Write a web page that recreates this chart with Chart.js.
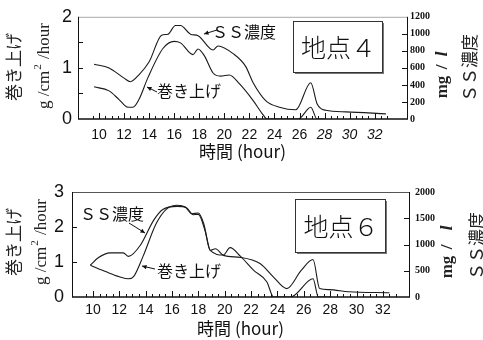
<!DOCTYPE html>
<html><head><meta charset="utf-8">
<script src="https://cdn.jsdelivr.net/npm/chart.js@4.4.1/dist/chart.umd.min.js"></script>
<style>
html,body{margin:0;padding:0;background:#fff;width:483px;height:340px;overflow:hidden}
canvas{position:absolute;left:0}
#c1{top:0}#c2{top:170px}
</style></head><body>
<canvas id="c1" width="483" height="170"></canvas>
<canvas id="c2" width="483" height="170"></canvas>
<script>
// ---- data ----
const xTickLabels = [10,12,14,16,18,20,22,24,26,28,30,32];
// 地点4
const ss4Hours = [9.6,10.8,12.0,12.5,13.2,14.0,15.0,15.5,16.1,16.5,17.3,17.9,19.1,19.5,20.7,21.7,22.3,23.3,24.4,25.7,26.9,27.4,28.1,29.7,32.9];
const ss4Conc  = [642,600,480,438,522,672,984,996,1098,1098,996,978,810,858,768,618,426,216,138,108,426,180,102,84,60];
const up4Hours = [9.6,10.8,11.6,12.3,12.7,13.2,13.9,15.1,16.0,16.5,17.5,17.9,18.4,19.1,19.7,20.4,21.2,22.3,23.1,23.4,25.9,26.9,27.4,28.0];
const up4Rate  = [0.63,0.55,0.38,0.23,0.23,0.39,0.81,1.38,1.52,1.49,1.26,1.37,1.24,0.90,0.84,0.86,0.69,0.36,0.08,0,0,0.23,0,0];
// 地点6
const ss6Hours = [9.8,10.4,11.3,12.3,12.7,13.6,14.6,15.3,16.4,17.1,17.6,18.0,18.5,18.9,19.3,19.9,21.2,22.7,23.7,24.7,25.8,26.7,27.2,27.9,29.4,32.5];
const ss6Conc  = [607,747,840,840,773,987,1460,1667,1727,1700,1567,1573,1267,887,920,793,753,633,380,160,507,713,160,140,100,80];
const up6Hours = [9.8,11.0,12.0,12.7,13.1,13.8,14.8,15.6,16.4,17.0,17.5,18.0,18.4,18.9,19.9,20.4,21.2,22.2,23.2,23.7,25.0,26.7,27.1,28.0];
const up6Rate  = [0.91,0.72,0.58,0.52,0.59,1.16,2.10,2.52,2.62,2.57,2.38,2.40,2.10,1.33,1.20,1.41,1.16,0.76,0.43,0,0,0.52,0,0];

const pts = (xs, ys) => xs.map((x, i) => ({x, y: ys[i]}));
const CJK = "'Noto Sans CJK JP', sans-serif";

function line(ctx, x1, y1, x2, y2) { ctx.beginPath(); ctx.moveTo(x1, y1); ctx.lineTo(x2, y2); ctx.stroke(); }
function rotText(ctx, txt, x, y, font) {
  ctx.save(); ctx.translate(x, y); ctx.rotate(-Math.PI / 2);
  ctx.font = font; ctx.textAlign = 'center'; ctx.textBaseline = 'middle';
  ctx.fillText(txt, 0, 0); ctx.restore();
}
function arrow(ctx, tx, ty, hx, hy) {
  line(ctx, tx, ty, hx, hy);
  const a = Math.atan2(hy - ty, hx - tx), L = 5;
  ctx.beginPath();
  ctx.moveTo(hx, hy);
  ctx.lineTo(hx - L * Math.cos(a - 0.45), hy - L * Math.sin(a - 0.45));
  ctx.lineTo(hx - L * Math.cos(a + 0.45), hy - L * Math.sin(a + 0.45));
  ctx.closePath(); ctx.fill();
}

const deco = {
  id: 'deco',
  afterDraw(chart, args, o) {
    const {ctx, chartArea: a, scales} = chart;
    ctx.save();
    ctx.strokeStyle = '#111'; ctx.fillStyle = '#111'; ctx.lineWidth = 1;
    // frame
    ctx.strokeStyle = o.topColor; line(ctx, a.left, a.top + 0.5, a.right, a.top + 0.5);
    ctx.strokeStyle = '#111';
    line(ctx, a.left + 0.5, a.top, a.left + 0.5, a.bottom);
    line(ctx, a.right + 0.5, a.top, a.right + 0.5, a.bottom);
    ctx.lineWidth = 1.6; line(ctx, a.left, a.bottom, a.right + 1, a.bottom);
    ctx.lineWidth = 1;
    // inward ticks
    for (const v of o.leftTicks) { const p = Math.round(scales.y.getPixelForValue(v)) + 0.5; line(ctx, a.left, p, a.left + 5, p); }
    for (const v of o.rightTicks) { const p = Math.round(scales.y2.getPixelForValue(v)) + 0.5; line(ctx, a.right - 5, p, a.right, p); }
    for (let h = 9.5; h <= 33.01; h += 0.5) {
      const p = Math.round(scales.x.getPixelForValue(h)) + 0.5;
      const len = (Math.abs(h % 2) < 0.01) ? 6 : 3;
      line(ctx, p, a.bottom, p, a.bottom - len);
    }
    // left axis titles
    ctx.fillStyle = '#222';
    rotText(ctx, '巻き上げ', o.lt1[0], o.lt1[1], '17px ' + CJK);
    // g/cm²/hour
    ctx.save(); ctx.translate(o.lt2[0], o.lt2[1]); ctx.rotate(-Math.PI / 2);
    ctx.textBaseline = 'middle'; ctx.textAlign = 'left';
    const f1 = "17px 'Liberation Serif'", f2 = "11px 'Liberation Serif'";
    ctx.font = f1; const w1 = ctx.measureText('g /cm').width; const w3 = ctx.measureText(' /hour').width;
    ctx.font = f2; const w2 = ctx.measureText('2').width + 2;
    let x0 = -(w1 + w2 + w3) / 2;
    ctx.font = f1; ctx.fillText('g /cm', x0, 0);
    ctx.font = f2; ctx.fillText('2', x0 + w1 + 1, -7);
    ctx.font = f1; ctx.fillText(' /hour', x0 + w1 + w2, 0);
    ctx.restore();
    // right axis titles
    rotText(ctx, 'mg', o.rt[0], o.rt[1], "bold 17px 'Liberation Serif'");
    rotText(ctx, '/', o.rt[0], o.rt[2], "bold 17px 'Liberation Serif'");
    rotText(ctx, 'l', o.rt[0], o.rt[3], "italic bold 17px 'Liberation Serif'");
    rotText(ctx, 'ＳＳ濃度', o.rt2[0], o.rt2[1], '17px ' + CJK);
    // station box with shadow
    const [bx, by, bw, bh] = o.box;
    ctx.fillStyle = '#777'; ctx.fillRect(bx + 2, by + 2, bw, bh);
    ctx.fillStyle = '#fff'; ctx.fillRect(bx, by, bw, bh);
    ctx.strokeStyle = '#333'; ctx.strokeRect(bx + 0.5, by + 0.5, bw, bh);
    ctx.fillStyle = '#111'; ctx.font = '300 25px ' + CJK; ctx.textAlign = 'center'; ctx.textBaseline = 'middle';
    ctx.fillText(o.station, bx + bw / 2 + 1, by + bh / 2 + 1);
    // annotations
    ctx.font = '16px ' + CJK; ctx.textAlign = 'left'; ctx.fillStyle = '#111'; ctx.strokeStyle = '#111';
    ctx.fillText('ＳＳ濃度', o.ssLabel[0], o.ssLabel[1]);
    ctx.fillText('巻き上げ', o.upLabel[0], o.upLabel[1]);
    arrow(ctx, ...o.ssArrow);
    arrow(ctx, ...o.upArrow);
    ctx.restore();
  }
};

function makeChart(id, cfg) {
  return new Chart(document.getElementById(id), {
    type: 'line',
    data: {
      datasets: [
        {label: 'ＳＳ濃度', data: pts(cfg.ssH, cfg.ss), yAxisID: 'y2'},
        {label: '巻き上げ', data: pts(cfg.upH, cfg.up), yAxisID: 'y'}
      ]
    },
    options: {
      responsive: false, animation: false, devicePixelRatio: 1,
      layout: {padding: {top: cfg.top, left: 0, right: 0, bottom: 0}},
      elements: {
        point: {radius: 0},
        line: {borderColor: '#1a1a1a', borderWidth: 1.1, cubicInterpolationMode: 'monotone', fill: false}
      },
      plugins: {legend: {display: false}, tooltip: {enabled: false}, deco: cfg.deco},
      scales: {
        x: {
          type: 'linear', min: cfg.xMin, max: cfg.xMax,
          grid: {display: false, drawTicks: false}, border: {display: false},
          afterBuildTicks: s => { s.ticks = xTickLabels.map(v => ({value: v})); },
          ticks: {padding: cfg.xPad, color: '#111', maxRotation: 0, autoSkip: false,
            callback: v => String(v),
            font: c => ({family: "'Liberation Sans'", size: 14, style: (cfg.italicFrom && c.tick && c.tick.value >= cfg.italicFrom) ? 'italic' : 'normal'})},
          title: {display: true, text: '時間 (hour)', color: '#111', font: {family: "'Noto Sans CJK JP'", size: 17}, padding: {top: 0, bottom: cfg.tPad}},
          afterFit: s => { s.height = cfg.xH; }
        },
        y: {
          position: 'left', min: 0, max: cfg.yMax,
          grid: {display: false, drawTicks: false}, border: {display: false},
          ticks: {stepSize: 1, padding: cfg.yPad, color: '#111', callback: v => String(v), font: {family: "'Liberation Sans'", size: 18}},
          afterFit: s => { s.width = cfg.yW; }
        },
        y2: {
          position: 'right', min: 0, max: cfg.y2Max,
          grid: {display: false, drawTicks: false}, border: {display: false},
          ticks: {stepSize: cfg.y2Step, padding: cfg.y2Pad, color: '#111', callback: v => String(v), font: {family: "'Liberation Serif'", size: 10, weight: 'bold'}},
          afterFit: s => { s.width = cfg.y2W; }
        }
      }
    },
    plugins: [deco]
  });
}

makeChart('c1', {
  ssH: ss4Hours, ss: ss4Conc, upH: up4Hours, up: up4Rate,
  top: 14, xMin: 8.32, xMax: 34.58, xH: 51, xPad: 8, tPad: 8, italicFrom: 28,
  yMax: 2, yW: 78, yPad: 6, y2Max: 1200, y2Step: 200, y2W: 76, y2Pad: 3,
  deco: {
    topColor: '#aaa', leftTicks: [0.5, 1, 1.5], rightTicks: [200, 400, 600, 800, 1000],
    lt1: [14, 67], lt2: [45, 66], rt: [443, 87, 67, 54], rt2: [470, 68],
    box: [293, 21, 89, 51], station: '地点４',
    ssLabel: [212, 32], upLabel: [157, 91],
    ssArrow: [217, 30, 204, 34], upArrow: [157, 92, 147, 87]
  }
});

makeChart('c2', {
  ssH: ss6Hours, ss: ss6Conc, upH: up6Hours, up: up6Rate,
  top: 22, xMin: 8.41, xMax: 33.98, xH: 43, xPad: 5, tPad: 1, italicFrom: 0,
  yMax: 3, yW: 72, yPad: 8, y2Max: 2000, y2Step: 500, y2W: 74, y2Pad: 6,
  deco: {
    topColor: '#555', leftTicks: [1, 2], rightTicks: [500, 1000, 1500],
    lt1: [14, 72], lt2: [42, 72], rt: [448, 97, 77, 58], rt2: [477, 76],
    box: [295, 29, 90, 53], station: '地点６',
    ssLabel: [80, 44], upLabel: [157, 101],
    ssArrow: [129, 53, 145, 63], upArrow: [155, 99, 142, 96]
  }
});
</script>
</body></html>
